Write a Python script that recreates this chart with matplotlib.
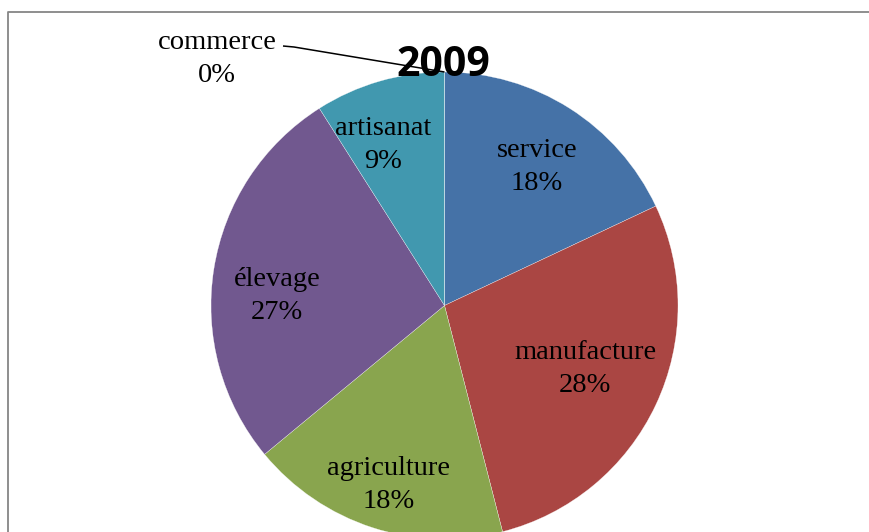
import matplotlib
matplotlib.use("Agg")
import matplotlib.pyplot as plt

# share of activities, 2009 (%)
sectors = ["service", "manufacture", "agriculture", "élevage", "artisanat", "commerce"]
shares = [18, 28, 18, 27, 9, 0]
colors = ["#4572A7", "#AA4643", "#89A54E", "#71588F", "#4198AF", "#DB843D"]
title = "2009"

W, H = 869, 532
fig = plt.figure(figsize=(W / 100, H / 100), dpi=100)
ax = fig.add_axes([0, 0, 1, 1])

cx, cy, r = 444.5, H - 305.5, 233.5
wedges, _ = ax.pie(shares, colors=colors, startangle=90, counterclock=False,
                   center=(cx, cy), radius=r,
                   wedgeprops=dict(edgecolor="white", linewidth=0.2))

ax.set_xlim(0, W)
ax.set_ylim(0, H)
ax.set_aspect("equal")
ax.axis("off")

# label anchors (pixel layout, y measured from top)
label_pos = {
    "service": (537, 167),
    "manufacture": (585, 369),
    "agriculture": (389, 485),
    "élevage": (277, 296),
    "artisanat": (383, 145),
    "commerce": (217, 59),
}
serif = dict(family="Liberation Serif", fontsize=20.5, color="black")
for name, val in zip(sectors, shares):
    x, y = label_pos[name]
    ax.text(x, H - y, f"{name}\n{val}%", ha="center", va="center",
            multialignment="center", linespacing=1.42, **serif)

# leader line for the empty slice
ax.plot([283, 294, cx], [H - 46, H - 47, H - 72], color="black", lw=1.1,
        solid_capstyle="butt")

ax.text(443, H - 65, title, ha="center", va="center", family="Open Sans",
        fontweight="bold", fontsize=29.5, color="black")

# chart area border
ax.plot([W + 5, 8, 8], [H - 12, H - 12, -5], color="#868686", lw=1.3,
        clip_on=False)

fig.savefig("out.png", dpi=100)
